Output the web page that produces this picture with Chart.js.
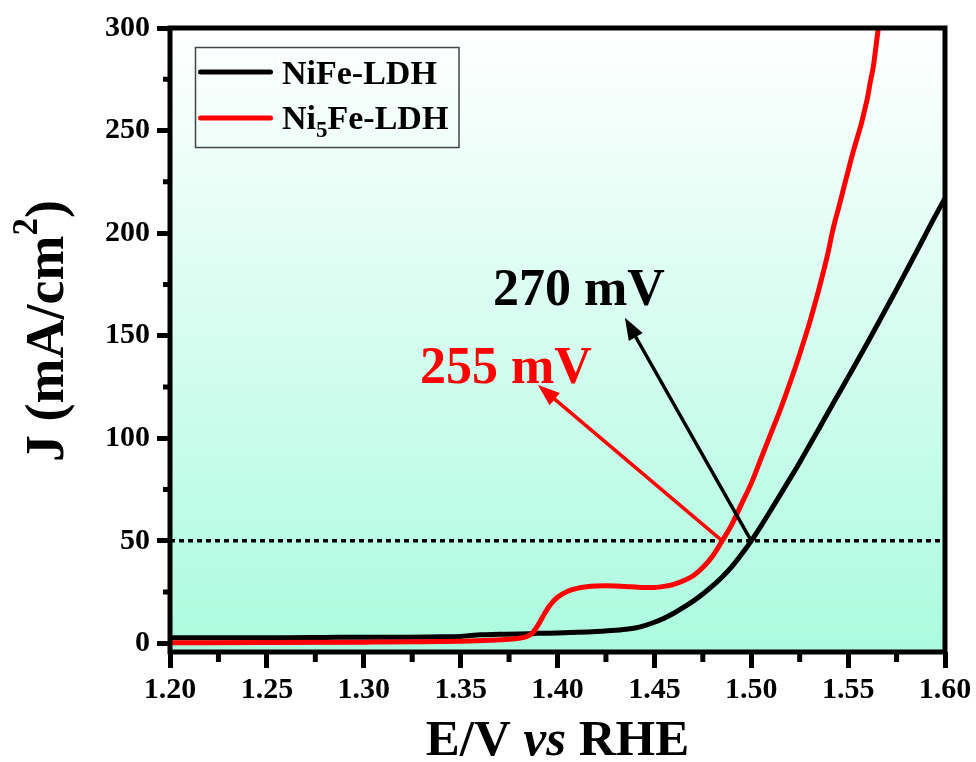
<!DOCTYPE html>
<html>
<head>
<meta charset="utf-8">
<title>LSV polarization curves</title>
<script src="https://cdn.jsdelivr.net/npm/chart.js@4.4.1/dist/chart.umd.min.js"></script>
<style>
  html, body { margin: 0; padding: 0; background: #ffffff; }
  #wrap { width: 976px; height: 762px; }
</style>
</head>
<body>
<div id="wrap"><canvas id="lsv" width="976" height="762"></canvas></div>
<script>
// Potential (V vs RHE) and current density (mA/cm2) for NiFe-LDH
const nifeE = [1.200, 1.220, 1.240, 1.260, 1.280, 1.300, 1.320, 1.340, 1.350, 1.355,
               1.360, 1.370, 1.380, 1.390, 1.400, 1.410, 1.420, 1.430, 1.435, 1.440,
               1.445, 1.450, 1.455, 1.460, 1.465, 1.470, 1.475, 1.480, 1.485, 1.490,
               1.495, 1.500, 1.505, 1.510, 1.515, 1.520, 1.525, 1.530, 1.535, 1.540,
               1.545, 1.550, 1.555, 1.560, 1.565, 1.570, 1.575, 1.580, 1.585, 1.590,
               1.595, 1.600];
const nifeJ = [2.7, 2.7, 2.8, 2.8, 2.9, 3.0, 3.0, 3.2, 3.4, 3.8,
               4.2, 4.4, 4.6, 4.9, 5.1, 5.4, 5.8, 6.4, 6.9, 7.5,
               8.7, 10.3, 12.3, 14.7, 17.5, 20.6, 24.1, 28.0, 32.4, 37.4,
               43.4, 50.0, 57.2, 64.8, 72.5, 80.3, 88.2, 96.5, 104.8, 113.2,
               121.5, 129.8, 138.1, 146.6, 155.2, 163.9, 172.6, 181.5, 190.4, 199.4,
               208.4, 217.0];

// Potential and current density for Ni5Fe-LDH
const ni5feE = [1.200, 1.250, 1.300, 1.330, 1.350, 1.365, 1.375, 1.380, 1.384, 1.387,
                1.390, 1.393, 1.396, 1.400, 1.405, 1.410, 1.415, 1.420, 1.425, 1.430,
                1.435, 1.440, 1.445, 1.450, 1.455, 1.460, 1.465, 1.470, 1.475, 1.480,
                1.485, 1.490, 1.495, 1.500, 1.505, 1.510, 1.515, 1.520, 1.525, 1.530,
                1.535, 1.538, 1.540, 1.5415, 1.543, 1.545, 1.548, 1.551, 1.553, 1.5555,
                1.557, 1.5585, 1.560, 1.5615, 1.563, 1.5637, 1.5645, 1.566];
const ni5feJ = [0.3, 0.4, 0.6, 0.8, 1.1, 1.5, 2.0, 2.5, 3.3, 5.0,
                9.0, 14.0, 18.5, 22.5, 25.3, 26.8, 27.6, 28.0, 28.1, 28.0,
                27.7, 27.5, 27.3, 27.3, 27.8, 28.8, 30.5, 33.0, 37.0, 42.5,
                50.0, 58.0, 68.0, 78.0, 90.0, 102.0, 114.0, 127.0, 141.0, 156.0,
                173.0, 184.0, 192.0, 199.0, 205.0, 212.0, 223.0, 234.0, 241.0, 249.0,
                254.0, 260.0, 266.0, 274.0, 281.0, 286.0, 292.0, 303.0];

// Reference current density line
const refJ = 50;
const refE = [1.20, 1.60];

// Axis ticks
const xTicks = [1.20, 1.25, 1.30, 1.35, 1.40, 1.45, 1.50, 1.55, 1.60];
const xMinorTicks = [1.225, 1.275, 1.325, 1.375, 1.425, 1.475, 1.525, 1.575];
const yTicks = [0, 50, 100, 150, 200, 250, 300];
const yMinorTicks = [25, 75, 125, 175, 225, 275];

// Overpotential annotations: arrow tail (at 50 mA/cm2), arrow tip, text position
const overpotText = ['270 mV', '255 mV'];
const arrowTailE = [1.500, 1.485];
const arrowTailJ = [50, 50];
const arrowTipE = [1.4348, 1.3899];
const arrowTipJ = [158.7, 126.0];
const labelE = [1.411, 1.3734];
const labelJ = [165.0, 127.0];

const seriesNames = ['NiFe-LDH', 'Ni5Fe-LDH'];

const SERIF = '"Liberation Serif", "Times New Roman", serif';
const lineColors = ['#000000', '#ff0000'];

function pts(xs, ys) { return xs.map((x, i) => ({ x: x, y: ys[i] })); }

const decorations = {
  id: 'decorations',
  beforeDraw(chart) {
    const { ctx, chartArea: a } = chart;
    const g = ctx.createLinearGradient(0, a.top, 0, a.bottom);
    g.addColorStop(0, '#ffffff');
    g.addColorStop(1, '#abfbdf');
    ctx.save();
    ctx.fillStyle = g;
    ctx.fillRect(a.left, a.top, a.right - a.left, a.bottom - a.top);
    ctx.restore();
  },
  afterDraw(chart) {
    const { ctx, chartArea: a } = chart;
    const xs = chart.scales.x, ys = chart.scales.y;
    ctx.save();

    // minor ticks
    ctx.strokeStyle = '#000';
    ctx.lineWidth = 5;
    ctx.beginPath();
    xMinorTicks.forEach(v => {
      const px = xs.getPixelForValue(v);
      ctx.moveTo(px, a.bottom); ctx.lineTo(px, a.bottom + 10);
    });
    yMinorTicks.forEach(v => {
      const py = ys.getPixelForValue(v);
      ctx.moveTo(a.left, py); ctx.lineTo(a.left - 7, py);
    });
    ctx.stroke();

    // plot frame
    ctx.lineWidth = 5;
    ctx.strokeRect(a.left, a.top, a.right - a.left, a.bottom - a.top);

    // overpotential arrows and labels
    overpotText.forEach((txt, i) => {
      const color = lineColors[i];
      const x0 = xs.getPixelForValue(arrowTailE[i]), y0 = ys.getPixelForValue(arrowTailJ[i]);
      const x1 = xs.getPixelForValue(arrowTipE[i]), y1 = ys.getPixelForValue(arrowTipJ[i]);
      const ang = Math.atan2(y1 - y0, x1 - x0);
      const headLen = 22, headHalf = 8;
      const bx = x1 - headLen * Math.cos(ang), by = y1 - headLen * Math.sin(ang);
      ctx.strokeStyle = color;
      ctx.fillStyle = color;
      ctx.lineWidth = 3.5;
      ctx.beginPath();
      ctx.moveTo(x0, y0);
      ctx.lineTo(bx + 2 * Math.cos(ang), by + 2 * Math.sin(ang));
      ctx.stroke();
      ctx.beginPath();
      ctx.moveTo(x1, y1);
      ctx.lineTo(bx + headHalf * Math.sin(ang), by - headHalf * Math.cos(ang));
      ctx.lineTo(bx - headHalf * Math.sin(ang), by + headHalf * Math.cos(ang));
      ctx.closePath();
      ctx.fill();

      ctx.font = 'bold 52px ' + SERIF;
      ctx.textAlign = 'center';
      ctx.textBaseline = 'alphabetic';
      ctx.fillText(txt, xs.getPixelForValue(labelE[i]), ys.getPixelForValue(labelJ[i]));
    });

    // legend
    ctx.lineWidth = 1.5;
    ctx.strokeStyle = '#444';
    ctx.strokeRect(195.5, 47.5, 263.5, 100);
    const rowY = [72, 118];
    const baseY = [83.5, 128.5];
    seriesNames.forEach((name, i) => {
      ctx.strokeStyle = lineColors[i];
      ctx.lineWidth = 5;
      ctx.lineCap = 'round';
      ctx.beginPath();
      ctx.moveTo(200.5, rowY[i]);
      ctx.lineTo(270.5, rowY[i]);
      ctx.stroke();
      ctx.lineCap = 'butt';
      ctx.fillStyle = '#000';
      ctx.textAlign = 'left';
      ctx.textBaseline = 'alphabetic';
      let x = 282;
      const m = name.match(/^(Ni)(\d+)(.*)$/);
      if (m) {
        ctx.font = 'bold 34px ' + SERIF;
        ctx.fillText(m[1], x, baseY[i]);
        x += ctx.measureText(m[1]).width;
        ctx.font = 'bold 23px ' + SERIF;
        ctx.fillText(m[2], x, baseY[i] + 8);
        x += ctx.measureText(m[2]).width;
        ctx.font = 'bold 34px ' + SERIF;
        ctx.fillText(m[3], x, baseY[i]);
      } else {
        ctx.font = 'bold 34px ' + SERIF;
        ctx.fillText(name, x, baseY[i]);
      }
    });

    // x-axis title with italic "vs"
    const parts = [['E/V ', 'bold'], ['vs', 'italic bold'], [' RHE', 'bold']];
    let total = 0;
    parts.forEach(p => { ctx.font = p[1] + ' 51px ' + SERIF; total += ctx.measureText(p[0]).width; });
    let tx = (a.left + a.right) / 2 - total / 2;
    ctx.fillStyle = '#000';
    ctx.textAlign = 'left';
    parts.forEach(p => {
      ctx.font = p[1] + ' 51px ' + SERIF;
      ctx.fillText(p[0], tx, 755);
      tx += ctx.measureText(p[0]).width;
    });

    // y-axis title with superscript
    ctx.translate(63, 331);
    ctx.rotate(-Math.PI / 2);
    const yParts = [['J (mA/cm', 54, 0], ['2', 35, -26], [')', 54, 0]];
    let yTotal = 0;
    yParts.forEach(p => { ctx.font = 'bold ' + p[1] + 'px ' + SERIF; yTotal += ctx.measureText(p[0]).width; });
    let ty = -yTotal / 2;
    yParts.forEach(p => {
      ctx.font = 'bold ' + p[1] + 'px ' + SERIF;
      ctx.fillText(p[0], ty, p[2]);
      ty += ctx.measureText(p[0]).width;
    });

    ctx.restore();
  }
};

new Chart(document.getElementById('lsv'), {
  type: 'line',
  data: {
    datasets: [
      {
        label: seriesNames[0],
        data: pts(nifeE, nifeJ),
        borderColor: lineColors[0],
        borderWidth: 5,
        pointRadius: 0,
        cubicInterpolationMode: 'monotone',
        order: 1
      },
      {
        label: seriesNames[1],
        data: pts(ni5feE, ni5feJ),
        borderColor: lineColors[1],
        borderWidth: 5,
        pointRadius: 0,
        cubicInterpolationMode: 'monotone',
        order: 0
      },
      {
        label: '50 mA/cm2',
        data: pts(refE, [refJ, refJ]),
        borderColor: '#000',
        borderWidth: 3.5,
        borderDash: [5, 4],
        pointRadius: 0,
        order: 2
      }
    ]
  },
  options: {
    responsive: false,
    devicePixelRatio: 1,
    animation: false,
    layout: { padding: { top: 28, right: 31, left: 0, bottom: 0 } },
    plugins: { legend: { display: false }, tooltip: { enabled: false } },
    scales: {
      x: {
        type: 'linear',
        min: 1.20,
        max: 1.60,
        afterBuildTicks: s => { s.ticks = xTicks.map(v => ({ value: v })); },
        afterFit: s => { s.height = 110; },
        grid: { display: true, drawOnChartArea: false, drawTicks: true, tickLength: 16, tickWidth: 5, tickColor: '#000' },
        border: { display: false },
        ticks: {
          autoSkip: false,
          maxRotation: 0,
          padding: 4,
          color: '#000',
          font: { family: SERIF, size: 30, weight: 'bold' },
          callback: v => Number(v).toFixed(2)
        }
      },
      y: {
        type: 'linear',
        min: -4.2,
        max: 300,
        afterBuildTicks: s => { s.ticks = yTicks.map(v => ({ value: v })); },
        afterFit: s => { s.width = 170; },
        grid: { display: true, drawOnChartArea: false, drawTicks: true, tickLength: 13, tickWidth: 5, tickColor: '#000' },
        border: { display: false },
        ticks: {
          autoSkip: false,
          padding: 7,
          color: '#000',
          font: { family: SERIF, size: 30, weight: 'bold' },
          callback: v => String(v)
        }
      }
    }
  },
  plugins: [decorations]
});
</script>
</body>
</html>
